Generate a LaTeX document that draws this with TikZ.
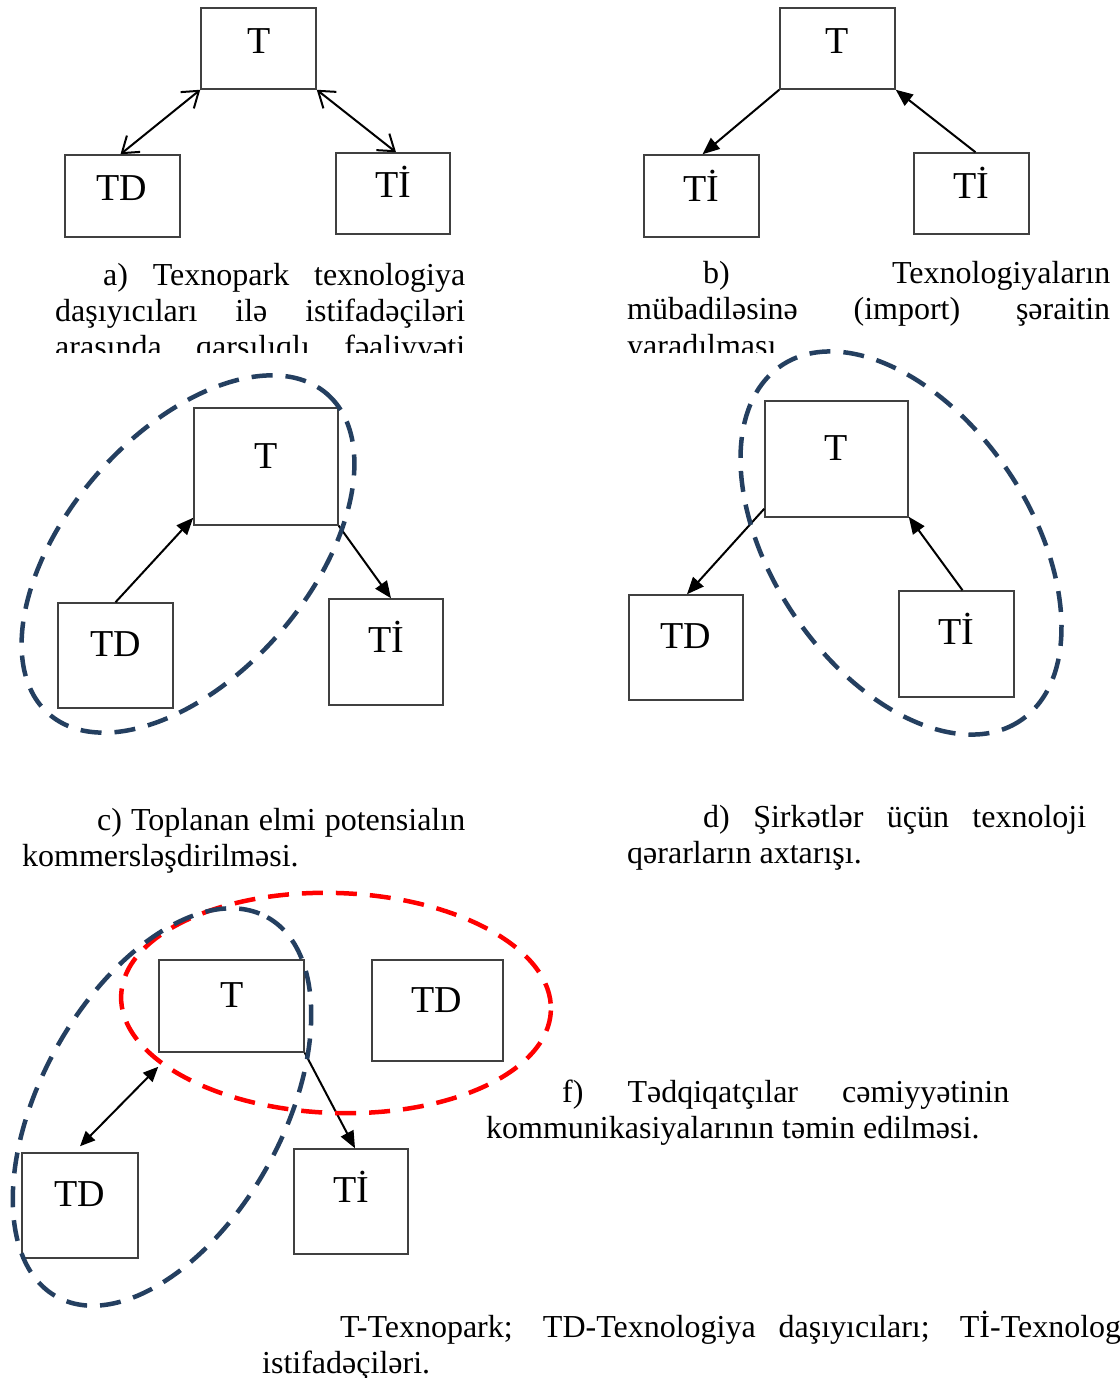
\documentclass[tikz,border=0pt]{standalone}
\usepackage{fontspec}
\setmainfont{Liberation Serif}
\usetikzlibrary{arrows.meta}
\definecolor{navy}{HTML}{243F60}
\definecolor{boxgray}{HTML}{404040}
\begin{document}
\begin{tikzpicture}[x=1pt,y=-1pt,
  bx/.style={draw=boxgray, line width=1.5pt, inner sep=0pt},
  lbl/.style={inner sep=0pt, anchor=base, font=\fontsize{38}{40}\selectfont},
  txt/.style={inner sep=0pt, anchor=base west, font=\fontsize{32}{36.8}\selectfont},
  arr/.style={line width=2pt, -{Triangle[length=17pt,width=14pt]}},
  dblarr/.style={line width=2pt, {Triangle[length=15pt,width=13pt]}-{Triangle[length=15pt,width=13pt]}},
  barb/.style={line width=2pt, {Straight Barb[length=15pt,width=21pt]}-{Straight Barb[length=15pt,width=21pt]}},
  grp/.style={draw=navy, line width=4.5pt, dash pattern=on 21pt off 13pt},
  rgrp/.style={draw=red, line width=4.5pt, dash pattern=on 21pt off 13pt}]
\clip (0,0) rectangle (1119,1378);
\fill[white] (0,0) rectangle (1119,1378);

% ---------- panel a
\node[bx, minimum width=115pt, minimum height=81pt] (Ta) at (258.5,48.5) {};
\node[bx, minimum width=115pt, minimum height=82pt] (TDa) at (122.5,196) {};
\node[bx, minimum width=114pt, minimum height=81pt] (TIa) at (393,193.5) {};
\node[lbl] (Tal) at (259,54) {T};
\node[lbl] (TDal) at (122,200) {TD};
\node[lbl] (TIal) at (393,197) {Tİ};
\draw[barb] (Ta.south west) -- ([xshift=-2pt]TDa.north);
\draw[barb] (Ta.south east) -- ([xshift=3pt]TIa.north);

% ---------- panel b
\node[bx, minimum width=115pt, minimum height=81pt] (Tb) at (837.5,48.5) {};
\node[bx, minimum width=115pt, minimum height=82pt] (TIb1) at (701.5,196) {};
\node[bx, minimum width=115pt, minimum height=81pt] (TIb2) at (971.5,193.5) {};
\node[lbl] (Tbl) at (837,54) {T};
\node[lbl] (TIb1l) at (701,201) {Tİ};
\node[lbl] (TIb2l) at (971,198) {Tİ};
\draw[arr] (Tb.south west) -- ([xshift=1pt]TIb1.north);
\draw[arr] ([xshift=4pt]TIb2.north) -- (Tb.south east);

% ---------- captions a, b (clipped)
\begin{scope}
\clip (0,0) rectangle (1119,352);
\node[txt] (ca1) at (103,285) {\makebox[362pt][s]{a) Texnopark texnologiya}};
\node[txt] (ca2) at (55,321) {\makebox[410pt][s]{daşıyıcıları ilə istifadəçiləri}};
\node[txt] (ca3) at (55,357) {\makebox[410pt][s]{arasında qarşılıqlı fəaliyyəti}};
\node[txt] (cb1) at (703,283) {\makebox[407pt][s]{b) Texnologiyaların}};
\node[txt] (cb2) at (627,319.5) {\makebox[483pt][s]{mübadiləsinə (import) şəraitin}};
\node[txt] (cb3) at (627,356) {yaradılması};
\end{scope}

% ---------- panel c
\node[bx, minimum width=144pt, minimum height=117pt] (Tc) at (266,466.5) {};
\node[bx, minimum width=115pt, minimum height=105pt] (TDc) at (115.5,655.5) {};
\node[bx, minimum width=114pt, minimum height=106pt] (TIc) at (386,652) {};
\node[lbl] (Tcl) at (266,468) {T};
\node[lbl] (TDcl) at (116,656) {TD};
\node[lbl] (TIcl) at (386,652) {Tİ};
\draw[arr] (TDc.north) -- ([yshift=8pt]Tc.south west);
\draw[arr] (Tc.south east) -- ([xshift=5pt]TIc.north);
\draw[grp, rotate around={49:(188,554)}] (188,554) ellipse [x radius=212, y radius=121];
\node[txt] (cc1) at (97,830) {\makebox[368pt][s]{c) Toplanan elmi potensialın}};
\node[txt] (cc2) at (22,866) {kommersləşdirilməsi.};

% ---------- panel d
\node[bx, minimum width=143pt, minimum height=116pt] (Td) at (836.5,459) {};
\node[bx, minimum width=114pt, minimum height=105pt] (TDd) at (686,647.5) {};
\node[bx, minimum width=115pt, minimum height=106pt] (TId) at (956.5,644) {};
\node[lbl] (Tdl) at (836,460) {T};
\node[lbl] (TDdl) at (686,648) {TD};
\node[lbl] (TIdl) at (956,644) {Tİ};
\draw[arr] ([yshift=9pt]Td.south west) -- ([xshift=1pt]TDd.north);
\draw[arr] ([xshift=6pt]TId.north) -- ([yshift=1pt]Td.south east);
\draw[grp, rotate around={-56:(901,543)}] (901,543) ellipse [x radius=214, y radius=129];
\node[txt] (cd1) at (703,827) {\makebox[383pt][s]{d) Şirkətlər üçün texnoloji}};
\node[txt] (cd2) at (627,863) {qərarların axtarışı.};

% ---------- panel f
\node[bx, minimum width=145pt, minimum height=92pt] (Tf) at (231.5,1006) {};
\node[bx, minimum width=131pt, minimum height=101pt] (TDf2) at (437.5,1010.5) {};
\node[bx, minimum width=116pt, minimum height=105pt] (TDf1) at (80,1205.5) {};
\node[bx, minimum width=114pt, minimum height=105pt] (TIf) at (351,1201.5) {};
\node[lbl] (Tfl) at (232,1007) {T};
\node[lbl] (TDf2l) at (437,1012) {TD};
\node[lbl] (TDf1l) at (80,1206) {TD};
\node[lbl] (TIfl) at (351,1202) {Tİ};
\draw[dblarr] ([yshift=-14pt]Tf.south west) -- ([yshift=6pt]TDf1.north);
\draw[arr] (Tf.south east) -- ([xshift=4pt]TIf.north);
\draw[rgrp, rotate around={-2:(336,1003)}] (336,1003) ellipse [x radius=215, y radius=110];
\draw[grp, rotate around={61:(162,1107)}] (162,1107) ellipse [x radius=217, y radius=121];
\node[txt] (cf1) at (562,1102) {\makebox[447pt][s]{f) Tədqiqatçılar cəmiyyətinin}};
\node[txt] (cf2) at (486,1138) {kommunikasiyalarının təmin edilməsi.};

% ---------- footer
\node[txt] (ft1) at (340,1337) {\makebox[820pt][s]{T-Texnopark; TD-Texnologiya daşıyıcıları; Tİ-Texnologiya}};
\node[txt] (ft2) at (262,1373) {istifadəçiləri.};
\end{tikzpicture}
\end{document}
